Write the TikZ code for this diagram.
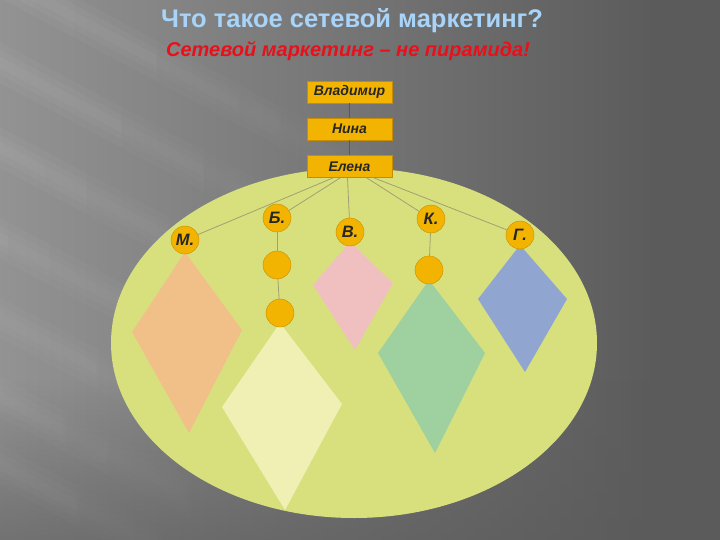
\documentclass[tikz,border=0pt]{standalone}
\usepackage{fontspec}
\setmainfont{Liberation Sans}
\usetikzlibrary{fadings,calc}
\definecolor{bgdark}{HTML}{5B5B5B}
\definecolor{bglight}{HTML}{ACACAC}
\definecolor{ellfill}{HTML}{D8E07E}
\definecolor{gold}{HTML}{F2B400}
\definecolor{golddark}{HTML}{C88C00}
\definecolor{linecol}{HTML}{A0A070}
\definecolor{dorange}{HTML}{F0C088}
\definecolor{dyellow}{HTML}{F0F0B4}
\definecolor{dpink}{HTML}{F0C0C0}
\definecolor{dgreen}{HTML}{9ED0A0}
\definecolor{dblue}{HTML}{90A6D0}
\definecolor{titleblue}{HTML}{A8D4FA}
\definecolor{subred}{HTML}{E8101A}
\tikzset{
  namebox/.style={draw=golddark, fill=gold, minimum width=85pt, minimum height=22pt,
    inner sep=0pt, font=\bfseries\itshape\fontsize{14}{16}\selectfont, text=black!85},
  member/.style={circle, draw=golddark, fill=gold, minimum size=28pt, inner sep=0pt,
    font=\bfseries\itshape\fontsize{16.5}{18}\selectfont, text=black!85},
  link/.style={draw=linecol, line width=0.8pt},
  boxlink/.style={draw=gray!70!black, line width=0.6pt},
  streak/.style={fill=white, opacity=0.06, path fading=east}
}
\begin{document}
\begin{tikzpicture}[x=1pt,y=-1pt]
\useasboundingbox (0,0) rectangle (720,540);
% background
\begin{scope}
\clip (0,0) rectangle (720,540);
\shade[left color=bglight, right color=bgdark] (-300,-20) rectangle (660,560);
\fill[bgdark] (650,-20) rectangle (740,560);
\fill[bgdark, opacity=0.8, path fading=north] (-20,380) rectangle (740,600);
\begin{scope}[shift={(0,170)}, rotate=-28]
  \foreach \yy in {-170,-95,-20,60,130,200,260} {
    \fill[streak] (-300,\yy-18) rectangle (380,\yy+18);
    \fill[streak] (-300,\yy-11) rectangle (380,\yy+11);
    \fill[streak] (-300,\yy-5) rectangle (380,\yy+5);
  }
\end{scope}
\end{scope}
% title
\node[font=\bfseries\fontsize{25.5}{28}\selectfont, text=titleblue] (title) at (352,21) {Что такое сетевой маркетинг?};
\node[font=\bfseries\itshape\fontsize{20}{22}\selectfont, text=subred] (sub) at (348,51) {Сетевой маркетинг – не пирамида!};
% ellipse
\fill[ellfill] (354,343) ellipse [x radius=243, y radius=175];
% diamonds
\fill[dorange] (185,252) -- (242,330) -- (189,433) -- (132,332) -- cycle;
\fill[dyellow] (280,323) -- (342,404) -- (285,510) -- (222,407) -- cycle;
\fill[dpink] (350,242) -- (393,283) -- (355,350) -- (313,285) -- cycle;
\fill[dgreen] (429,280) -- (485,353) -- (435,453) -- (378,353) -- cycle;
\fill[dblue] (520,245) -- (567,299) -- (525,372) -- (478,299) -- cycle;
% boxes
\node[namebox] (v) at (349.5,92) {Владимир};
\node[namebox] (n) at (349.5,129) {Нина};
\node[namebox] (e) at (349.5,166.5) {Елена};
\draw[boxlink] (v) -- (n);
\draw[boxlink] (n) -- (e);
% members
\node[member] (m) at (185,240) {М.};
\node[member] (b) at (277,218) {Б.};
\node[member] (vv) at (350,232) {В.};
\node[member] (k) at (431,219) {К.};
\node[member] (g) at (520,235) {Г.};
\node[member] (b1) at (277,265) {};
\node[member] (b2) at (280,313) {};
\node[member] (k1) at (429,270) {};
% links
\draw[link] ([xshift=-16pt]e.south) -- (m);
\draw[link] ([xshift=-9pt]e.south) -- (b);
\draw[link] ([xshift=-2pt]e.south) -- (vv);
\draw[link] ([xshift=17pt]e.south) -- (k);
\draw[link] ([xshift=24pt]e.south) -- (g);
\draw[link] (b) -- (b1);
\draw[link] (b1) -- (b2);
\draw[link] (k) -- (k1);
\end{tikzpicture}
\end{document}
